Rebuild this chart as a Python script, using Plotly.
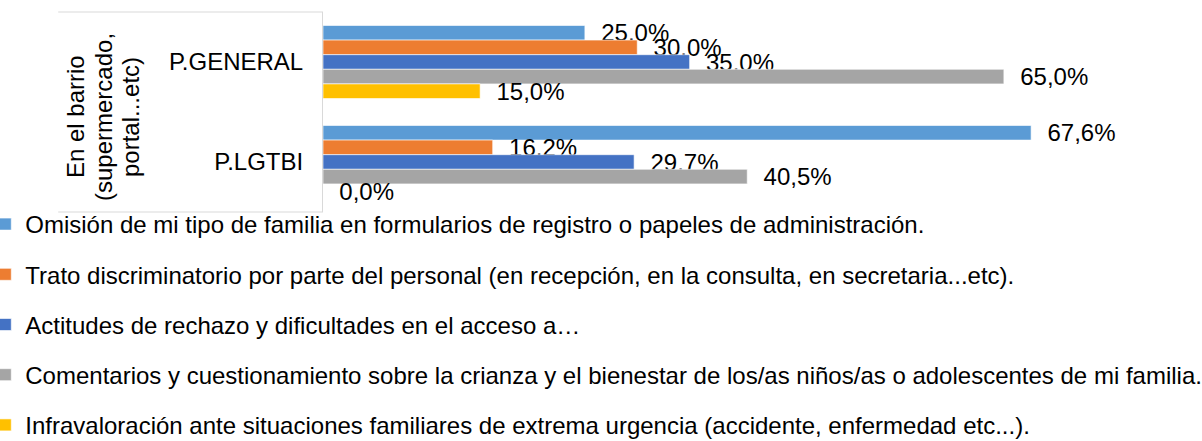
import plotly.graph_objects as go

categories = ["P.GENERAL", "P.LGTBI"]
group_title_lines = ["En el barrio", "(supermercado,", "portal...etc)"]

series_names = [
    "Omisión de mi tipo de familia en formularios de registro o papeles de administración.",
    "Trato discriminatorio por parte del personal (en recepción, en la consulta, en secretaria...etc).",
    "Actitudes de rechazo y dificultades en el acceso a…",
    "Comentarios y cuestionamiento sobre la crianza y el bienestar de los/as niños/as o adolescentes de mi familia.",
    "Infravaloración ante situaciones familiares de extrema urgencia (accidente, enfermedad etc...).",
]
omision = [25.0, 67.6]
trato = [30.0, 16.2]
actitudes = [35.0, 29.7]
comentarios = [65.0, 40.5]
infravaloracion = [15.0, 0.0]
series_values = [omision, trato, actitudes, comentarios, infravaloracion]
colors = ["#5B9BD5", "#ED7D31", "#4472C4", "#A5A5A5", "#FFC000"]

FONT = "Liberation Sans, Arial, sans-serif"
FS = 24

fig = go.Figure()
for i, (name, vals, col) in enumerate(zip(series_names, series_values, colors)):
    fig.add_trace(go.Bar(
        y=categories, x=vals, name=name, orientation="h",
        marker=dict(color=col, line=dict(color="rgba(255,255,255,0.6)", width=1)),
        texttemplate="\u00a0\u00a0%{x:.1f}%", textposition="outside",
        constraintext="none", cliponaxis=False,
        textfont=dict(family=FONT, size=FS, color="#000000"),
        legendgroup=f"g{i}",
    ))

title_x = [-0.2959, -0.2625, -0.2303]
annotations = [
    dict(text=t, textangle=-90, xref="paper", yref="paper", x=xx, y=0.475,
         xanchor="center", yanchor="middle", showarrow=False,
         font=dict(family=FONT, size=FS))
    for t, xx in zip(group_title_lines, title_x)
]

fig.update_layout(
    width=1202, height=441,
    separators=",.",
    barmode="group", bargap=0.27, bargroupgap=0,
    plot_bgcolor="white", paper_bgcolor="white",
    font=dict(family=FONT, size=FS, color="#000000"),
    margin=dict(l=323, r=41, t=12, b=229, autoexpand=False),
    xaxis=dict(range=[0, 80], showticklabels=False, showgrid=False, zeroline=False, showline=False),
    yaxis=dict(autorange="reversed", showline=True, linecolor="#D9D9D9", linewidth=1,
               ticks="", ticklabelstandoff=14, tickfont=dict(family=FONT, size=FS)),
    showlegend=True,
    legend=dict(
        orientation="v", x=-0.403, xanchor="left", y=0.05, yanchor="top",
        traceorder="grouped", tracegroupgap=16, maxheight=1000,
        font=dict(family=FONT, size=FS), bgcolor="rgba(0,0,0,0)",
    ),
    annotations=annotations,
    shapes=[
        dict(type="line", xref="paper", yref="paper", x0=-0.316, x1=0, y0=1, y1=1,
             line=dict(color="#D9D9D9", width=1)),
        dict(type="line", xref="paper", yref="paper", x0=-0.316, x1=0, y0=0, y1=0,
             line=dict(color="#D9D9D9", width=1)),
    ],
)

fig.write_html("out.html", config={"displayModeBar": False},
               post_script="document.body.style.margin='0';")
